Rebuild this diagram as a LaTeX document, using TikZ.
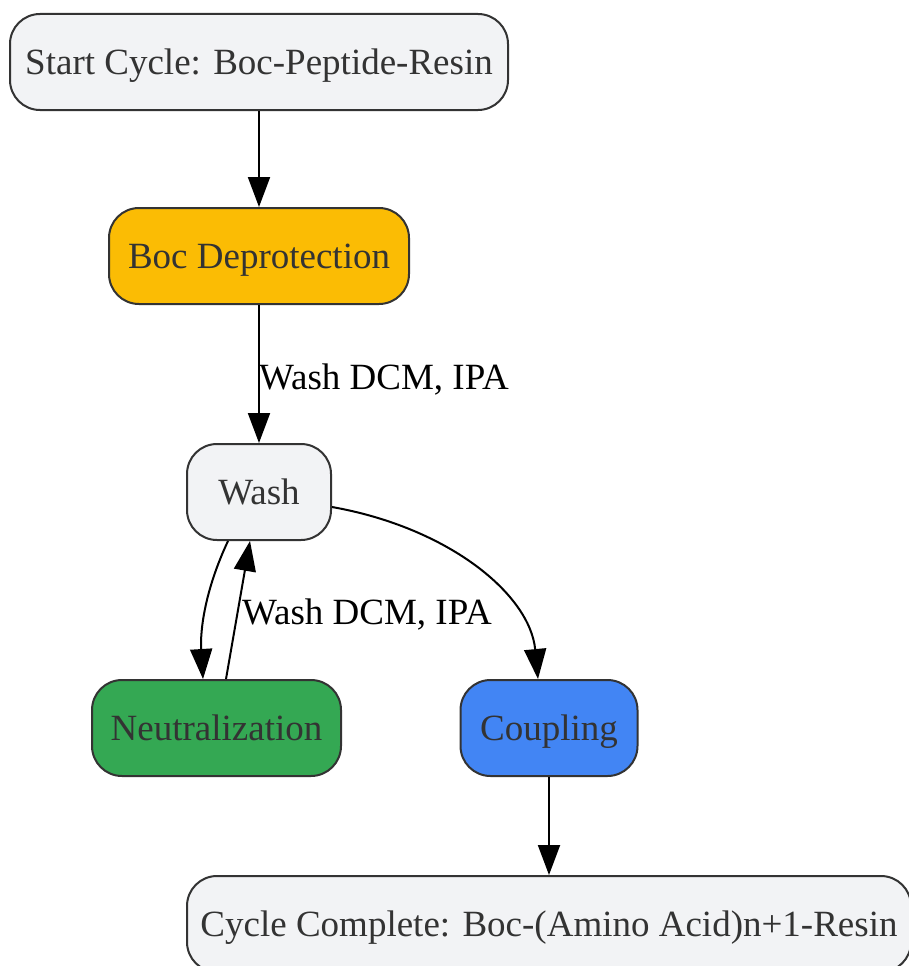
\documentclass[tikz,border=0pt]{standalone}
\usepackage{fontspec}
\setmainfont{Liberation Serif}
\usetikzlibrary{arrows.meta}
\definecolor{nodegray}{HTML}{F2F3F5}
\definecolor{nodeyellow}{HTML}{FBBC04}
\definecolor{nodegreen}{HTML}{34A853}
\definecolor{nodeblue}{HTML}{4285F4}
\definecolor{edgeline}{HTML}{333333}
\tikzset{
  box/.style={draw=edgeline, line width=2pt, rounded corners=30pt, minimum height=96pt,
    inner sep=0pt, text=edgeline, text height=28pt, text depth=3pt, font=\fontsize{37}{40}\selectfont},
  conn/.style={line width=2pt, draw=black, -{Triangle[length=30pt,width=22pt]}},
  elabel/.style={font=\fontsize{37}{40}\selectfont, text=black, inner sep=0pt, anchor=west}
}
\begin{document}
\begin{tikzpicture}[x=1pt,y=-1pt]
\useasboundingbox (0,0) rectangle (908,966);
\fill[white] (0,0) rectangle (908,966);
\node[box, fill=nodegray, minimum width=498pt] (start) at (259,62) {Start Cycle: Boc-Peptide-Resin};
\node[box, fill=nodeyellow, minimum width=300pt] (boc) at (259,256) {Boc Deprotection};
\node[box, fill=nodegray, minimum width=144pt] (wash) at (259,492) {Wash};
\node[box, fill=nodegreen, minimum width=249pt] (neut) at (216.5,728) {Neutralization};
\node[box, fill=nodeblue, minimum width=177pt] (coup) at (549,728) {Coupling};
\node[box, fill=nodegray, minimum width=724pt] (done) at (549,924) {Cycle Complete: Boc-(Amino Acid)n+1-Resin};

\draw[conn] (start.south) -- (boc.north);
\draw[conn] (boc.south) -- (wash.north);
\node[elabel] (l1) at (259,380) {Wash DCM, IPA};
\draw[conn] ([xshift=-31pt]wash.south) .. controls (205,590) and (200,630) .. ([xshift=-13.5pt]neut.north);
\draw[conn] ([xshift=9.5pt]neut.north) -- ([xshift=-9pt]wash.south);
\node[elabel] (l2) at (242,615) {Wash DCM, IPA};
\draw[conn] ([yshift=-15pt]wash.east) .. controls (450,528) and (530,595) .. ([xshift=-11pt]coup.north);
\draw[conn] (coup.south) -- (done.north);
\end{tikzpicture}
\end{document}
